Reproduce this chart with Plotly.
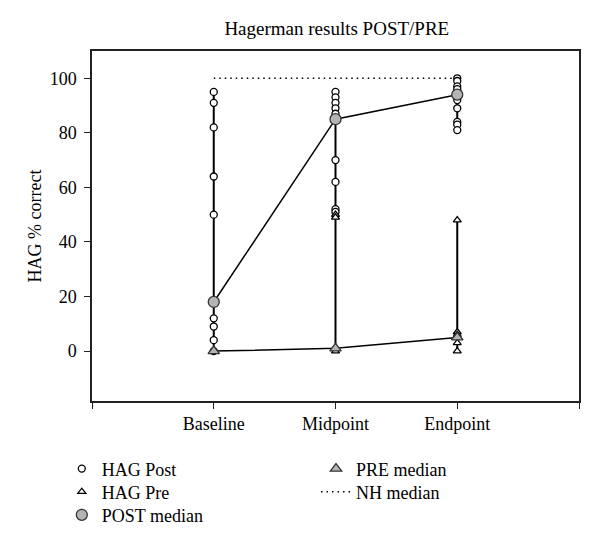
import plotly.graph_objects as go

STAGES = ["Baseline", "Midpoint", "Endpoint"]
STAGE_X = [1, 2, 3]

# individual scores
post_baseline = [95, 91, 82, 64, 50, 18, 12, 9, 4, 0]
post_midpoint = [95, 93, 91, 89, 87, 85, 70, 62, 52, 51]
post_endpoint = [100, 99, 97, 96, 94, 92, 89, 84, 83, 81]

pre_baseline = [0, 0, 0]
pre_midpoint = [50, 49, 1, 0]
pre_endpoint = [48, 7, 6, 5, 3, 0]

post_median = [18, 85, 94]
pre_median = [0, 1, 5]
nh_median = [100, 100, 100]

SERIF = "Liberation Serif, DejaVu Serif, serif"
FONT = dict(family=SERIF, size=18, color="black")


def group_xy(groups):
    # vertical range line per stage, split with None
    xs, ys = [], []
    for x, vals in zip(STAGE_X, groups):
        xs += [x] * len(vals) + [None]
        ys += list(vals) + [None]
    return xs, ys


post_x, post_y = group_xy([post_baseline, post_midpoint, post_endpoint])
pre_x, pre_y = group_xy([pre_baseline, pre_midpoint, pre_endpoint])

fig = go.Figure()

# range lines (no legend)
fig.add_trace(go.Scatter(x=pre_x, y=pre_y, mode="lines", line=dict(color="black", width=2),
                         showlegend=False, hoverinfo="skip"))
fig.add_trace(go.Scatter(x=post_x, y=post_y, mode="lines", line=dict(color="black", width=2),
                         showlegend=False, hoverinfo="skip"))
fig.add_trace(go.Scatter(x=STAGE_X, y=nh_median, mode="lines", name="NH median", legend="legend5",
                         line=dict(color="black", width=1.4, dash="1.5px,4px")))

fig.add_trace(go.Scatter(x=STAGE_X, y=post_median, mode="lines", line=dict(color="black", width=1.5),
                         showlegend=False, hoverinfo="skip"))
fig.add_trace(go.Scatter(x=STAGE_X, y=pre_median, mode="lines", line=dict(color="black", width=1.5),
                         showlegend=False, hoverinfo="skip"))

fig.add_trace(go.Scatter(x=post_x, y=post_y, mode="markers", name="HAG Post", legend="legend",
                         marker=dict(symbol="circle", size=7, color="white",
                                     line=dict(color="black", width=1.3))))
fig.add_trace(go.Scatter(x=pre_x, y=pre_y, mode="markers", name="HAG Pre", legend="legend2",
                         marker=dict(symbol="triangle-up", size=7, color="white",
                                     line=dict(color="black", width=1.3))))
fig.add_trace(go.Scatter(x=STAGE_X, y=post_median, mode="markers", name="POST median", legend="legend3",
                         marker=dict(symbol="circle", size=11, color="#b4b4b4",
                                     line=dict(color="#333333", width=1.3))))
fig.add_trace(go.Scatter(x=STAGE_X, y=pre_median, mode="markers", name="PRE median", legend="legend4",
                         marker=dict(symbol="triangle-up", size=10, color="#b4b4b4",
                                     line=dict(color="#333333", width=1.3))))

axis_common = dict(showline=True, linecolor="#222222", linewidth=1.5, mirror=True,
                   ticks="outside", ticklen=6, tickwidth=1.3, tickcolor="#222222",
                   showgrid=False, zeroline=False, tickfont=FONT)


def legend_at(x, y):
    return dict(x=x, y=y, xanchor="left", yanchor="middle", orientation="v",
                font=FONT, itemwidth=30, bgcolor="rgba(0,0,0,0)")


fig.update_layout(
    width=600, height=554,
    margin=dict(l=84, r=29, t=43, b=161),
    paper_bgcolor="white", plot_bgcolor="white",
    title=dict(text="Hagerman results POST/PRE", x=0.548, xanchor="center", y=0.964, yanchor="middle",
               font=dict(family=SERIF, size=19, color="black")),
    xaxis=dict(range=[0, 4], tickvals=[0, 1, 2, 3, 4], ticktext=[""] + STAGES + [""], **axis_common),
    yaxis=dict(range=[-18.3, 110], tickvals=[0, 20, 40, 60, 80, 100], ticklabelstandoff=4,
               title=dict(text="HAG % correct", font=FONT, standoff=3),
               **axis_common),
    legend=legend_at(-0.062, -0.194),
    legend2=legend_at(-0.062, -0.26),
    legend3=legend_at(-0.062, -0.326),
    legend4=legend_at(0.46, -0.194),
    legend5=legend_at(0.46, -0.26),
)

fig.write_html("out.html")
